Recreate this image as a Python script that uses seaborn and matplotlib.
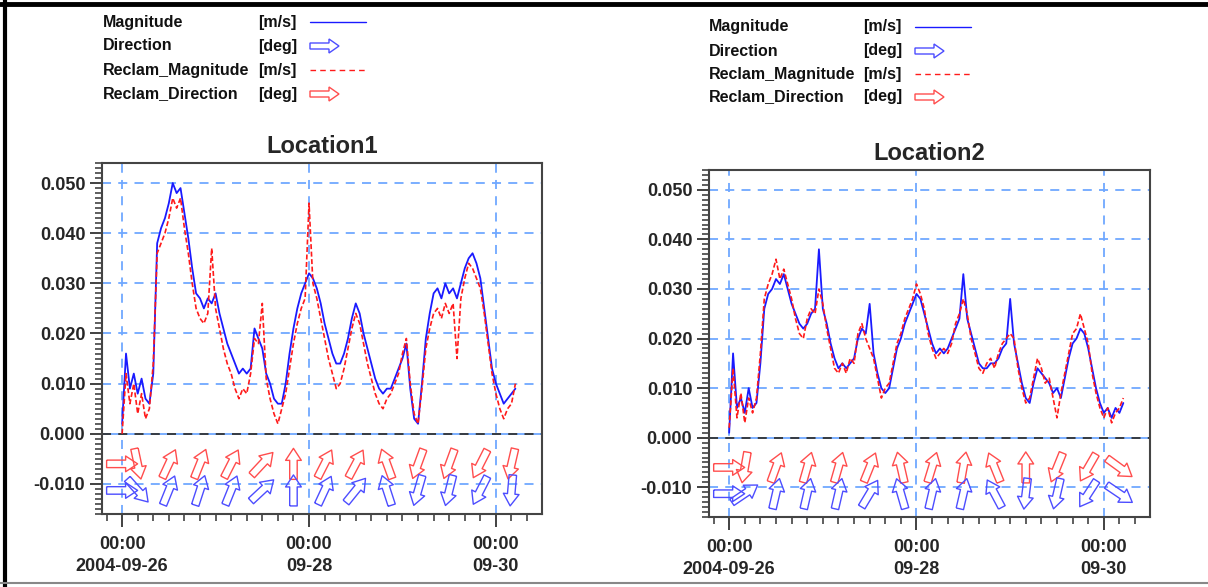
import numpy as np
import pandas as pd
import matplotlib
matplotlib.use("Agg")
import matplotlib.pyplot as plt
import matplotlib.dates as mdates
from matplotlib.ticker import FixedLocator, MultipleLocator, FormatStrFormatter
from matplotlib.patches import FancyArrow
import seaborn as sns

# ---------------- data (hourly, from 2004-09-26 00:00) ----------------
hours = list(range(102))

loc1_mag = [0.002, 0.016, 0.009, 0.012, 0.008, 0.011, 0.007, 0.006, 0.012, 0.038,
            0.041, 0.043, 0.046, 0.050, 0.048, 0.049, 0.044, 0.039, 0.033, 0.028,
            0.027, 0.025, 0.027, 0.026, 0.028, 0.024, 0.021, 0.018, 0.016, 0.014,
            0.012, 0.013, 0.012, 0.013, 0.021, 0.019, 0.017, 0.012, 0.010, 0.007,
            0.006, 0.006, 0.010, 0.016, 0.021, 0.025, 0.028, 0.030, 0.032, 0.031,
            0.029, 0.026, 0.022, 0.019, 0.016, 0.014, 0.014, 0.016, 0.019, 0.023,
            0.026, 0.024, 0.020, 0.017, 0.014, 0.011, 0.009, 0.008, 0.009, 0.009,
            0.011, 0.013, 0.015, 0.018, 0.009, 0.003, 0.002, 0.010, 0.019, 0.024,
            0.028, 0.029, 0.027, 0.030, 0.028, 0.029, 0.027, 0.030, 0.033, 0.035,
            0.036, 0.034, 0.031, 0.025, 0.019, 0.013, 0.010, 0.008, 0.006, 0.007,
            0.008, 0.009]

loc1_reclam = [0.000, 0.012, 0.006, 0.010, 0.004, 0.008, 0.003, 0.005, 0.014, 0.036,
               0.038, 0.040, 0.043, 0.047, 0.045, 0.047, 0.041, 0.036, 0.030, 0.025,
               0.023, 0.022, 0.024, 0.037, 0.025, 0.021, 0.017, 0.014, 0.012, 0.009,
               0.007, 0.009, 0.008, 0.012, 0.019, 0.018, 0.026, 0.011, 0.007, 0.004,
               0.002, 0.005, 0.008, 0.013, 0.018, 0.022, 0.025, 0.027, 0.046, 0.030,
               0.027, 0.023, 0.019, 0.015, 0.012, 0.009, 0.010, 0.013, 0.017, 0.021,
               0.024, 0.022, 0.018, 0.014, 0.011, 0.008, 0.006, 0.005, 0.007, 0.008,
               0.010, 0.012, 0.016, 0.019, 0.010, 0.004, 0.002, 0.009, 0.017, 0.021,
               0.024, 0.025, 0.023, 0.026, 0.024, 0.026, 0.015, 0.027, 0.031, 0.034,
               0.033, 0.031, 0.029, 0.024, 0.018, 0.012, 0.008, 0.005, 0.003, 0.005,
               0.006, 0.010]

loc2_mag = [0.001, 0.017, 0.006, 0.008, 0.005, 0.010, 0.006, 0.007, 0.015, 0.026,
            0.029, 0.030, 0.032, 0.031, 0.033, 0.030, 0.027, 0.025, 0.023, 0.022,
            0.023, 0.025, 0.026, 0.038, 0.026, 0.023, 0.019, 0.016, 0.014, 0.015,
            0.014, 0.015, 0.016, 0.020, 0.022, 0.021, 0.027, 0.017, 0.013, 0.010,
            0.009, 0.010, 0.014, 0.018, 0.020, 0.023, 0.025, 0.027, 0.029, 0.028,
            0.025, 0.022, 0.019, 0.017, 0.018, 0.017, 0.018, 0.020, 0.022, 0.024,
            0.033, 0.024, 0.021, 0.018, 0.015, 0.014, 0.014, 0.015, 0.015, 0.016,
            0.018, 0.019, 0.028, 0.019, 0.015, 0.011, 0.008, 0.007, 0.011, 0.014,
            0.013, 0.012, 0.011, 0.009, 0.010, 0.008, 0.012, 0.016, 0.019, 0.020,
            0.022, 0.021, 0.018, 0.014, 0.010, 0.007, 0.005, 0.006, 0.004, 0.006,
            0.005, 0.007]

loc2_reclam = [0.002, 0.014, 0.004, 0.009, 0.003, 0.008, 0.005, 0.008, 0.017, 0.028,
               0.031, 0.033, 0.036, 0.032, 0.034, 0.031, 0.028, 0.024, 0.021, 0.020,
               0.024, 0.026, 0.025, 0.030, 0.027, 0.022, 0.018, 0.014, 0.013, 0.015,
               0.013, 0.016, 0.015, 0.021, 0.023, 0.020, 0.018, 0.016, 0.012, 0.008,
               0.010, 0.011, 0.015, 0.019, 0.021, 0.024, 0.026, 0.028, 0.031, 0.029,
               0.026, 0.021, 0.018, 0.016, 0.017, 0.018, 0.017, 0.019, 0.023, 0.025,
               0.028, 0.025, 0.020, 0.017, 0.014, 0.013, 0.015, 0.016, 0.014, 0.017,
               0.019, 0.020, 0.021, 0.020, 0.014, 0.010, 0.007, 0.008, 0.012, 0.016,
               0.014, 0.011, 0.012, 0.008, 0.004, 0.009, 0.013, 0.017, 0.021, 0.022,
               0.025, 0.022, 0.019, 0.013, 0.009, 0.006, 0.004, 0.006, 0.003, 0.005,
               0.006, 0.008]

# direction samples (compass degrees, 0 = north, clockwise)
arrow_hours = [0, 4, 12, 20, 28, 36, 44, 52, 60, 68, 76, 84, 92, 100]
loc1_dir = [90, 138, 22, 18, 22, 47, 0, 25, 39, 342, 196, 194, 207, 185]
loc1_reclam_dir = [90, 168, 25, 22, 27, 43, 0, 27, 28, 340, 200, 200, 207, 193]
loc2_dir = [90, 56, 13, 13, 13, 31, 344, 13, 13, 332, 187, 193, 213, 124]
loc2_reclam_dir = [90, 190, 20, 16, 16, 22, 347, 17, 10, 338, 0, 202, 210, 126]

titles = ["Location1", "Location2"]
legend_names = ["Magnitude", "Direction", "Reclam_Magnitude", "Reclam_Direction"]
legend_units = ["[m/s]", "[deg]", "[m/s]", "[deg]"]
ytick_vals = [0.050, 0.040, 0.030, 0.020, 0.010, 0.000, -0.010]
xtick_dates = ["2004-09-26 00:00", "2004-09-28 00:00", "2004-09-30 00:00"]
xtick_labels = ["00:00\n2004-09-26", "00:00\n09-28", "00:00\n09-30"]

# ---------------- style ----------------
sns.set_theme(style="ticks")
plt.rcParams["font.family"] = ["Liberation Sans", "DejaVu Sans"]
plt.rcParams["font.weight"] = "bold"

BLUE = "#1a1aff"
RED = "#ff1a1a"
ABLUE = "#4d4dff"
ARED = "#ff4d4d"
GRID = "#6fa8ff"

start = pd.Timestamp("2004-09-26 00:00")
times = start + pd.to_timedelta(hours, unit="h")
arrow_times = mdates.date2num(start + pd.to_timedelta(arrow_hours, unit="h"))

fig = plt.figure(figsize=(12.08, 5.87), dpi=100)

axes_rects = [[102 / 1208, 1 - 514 / 587, 440 / 1208, 351 / 587],
              [709 / 1208, 1 - 517 / 587, 441 / 1208, 347 / 587]]
series = [(loc1_mag, loc1_reclam, loc1_dir, loc1_reclam_dir),
          (loc2_mag, loc2_reclam, loc2_dir, loc2_reclam_dir)]

for rect, title, (mag, rmag, d, rd) in zip(axes_rects, titles, series):
    ax = fig.add_axes(rect)
    df = pd.DataFrame({"time": times, "mag": mag, "rmag": rmag})
    sns.lineplot(data=df, x="time", y="mag", ax=ax, color=BLUE, lw=1.3, zorder=3)
    sns.lineplot(data=df, x="time", y="rmag", ax=ax, color=RED, lw=1.2, zorder=4)
    ax.lines[-1].set_dashes((3, 1.5))

    # direction arrows (hollow)
    for dirs, yb, col in [(rd, -0.0060, ARED), (d, -0.0113, ABLUE)]:
        rad = np.deg2rad(np.array(dirs, dtype=float))
        ax.quiver(arrow_times, np.full(len(dirs), yb), np.sin(rad), np.cos(rad),
                  angles="uv", pivot="middle", units="dots", scale_units="dots",
                  scale=1 / 31, width=7.5, headwidth=2.1, headlength=1.6,
                  headaxislength=1.6, facecolors="none", edgecolors=col,
                  linewidths=1.0, zorder=6)

    ax.set_xlim(pd.Timestamp("2004-09-25 18:50"), pd.Timestamp("2004-09-30 11:50"))
    ax.set_ylim(-0.016, 0.054)
    ax.set_xlabel("")
    ax.set_ylabel("")

    ax.yaxis.set_major_locator(FixedLocator(ytick_vals))
    ax.yaxis.set_major_formatter(FormatStrFormatter("%.3f"))
    ax.yaxis.set_minor_locator(MultipleLocator(0.001))
    ax.set_xticks(mdates.date2num(pd.to_datetime(xtick_dates)), labels=xtick_labels)
    ax.xaxis.set_minor_locator(mdates.HourLocator(byhour=range(0, 24, 4)))

    ax.tick_params(axis="both", which="major", length=9, width=1.3, color="#333333",
                   direction="out", labelsize=13, pad=3)
    ax.tick_params(axis="both", which="minor", length=5, width=1.1, color="#333333",
                   direction="out")
    ax.tick_params(axis="x", which="major", pad=7)
    for lab in ax.get_xticklabels():
        lab.set_linespacing(1.35)
        lab.set_fontweight("bold")
    for lab in ax.get_yticklabels():
        lab.set_fontweight("bold")

    ax.grid(True, which="major", color=GRID, linestyle=(0, (5, 4)), linewidth=1.3)
    ax.axhline(0, color=GRID, lw=1.3, zorder=1)
    ax.axhline(0, color="#333333", lw=1.3, ls=(0, (5, 4)), zorder=2)

    for s in ax.spines.values():
        s.set_color("#444444")
        s.set_linewidth(1.5)
        s.set_visible(True)

    ax.set_title(title, fontsize=17, fontweight="bold", pad=7)

# ---------------- legends and frame (overlay in pixel coords) ----------------
ov = fig.add_axes([0, 0, 1, 1], zorder=-1)
ov.set_xlim(0, 1208)
ov.set_ylim(587, 0)
ov.axis("off")

legend_layout = [(103, 258, 310, [22, 46, 70, 94]),
                 (709, 863, 915, [27, 51, 74, 97])]
for xt, xu, xs, ys in legend_layout:
    for name, unit, y, kind in zip(legend_names, legend_units, ys,
                                   ["line", "arrow", "dash", "arrow"]):
        ov.text(xt, y, name, fontsize=11.5, fontweight="bold", va="center",
                ha="left", color="#111111")
        ov.text(xu, y, unit, fontsize=11.5, fontweight="bold", va="center",
                ha="left", color="#111111")
        if kind == "line":
            ov.plot([xs, xs + 56], [y, y], color=BLUE, lw=1.0)
        elif kind == "dash":
            ov.plot([xs, xs + 56], [y, y], color=RED, lw=1.0, dashes=(4, 3))
        else:
            col = ABLUE if name == "Direction" else ARED
            ov.add_patch(FancyArrow(xs, y, 29, 0, width=6, head_width=14,
                                    head_length=10, length_includes_head=True,
                                    facecolor="none", edgecolor=col, lw=1.0))

ov.plot([0, 1208], [4, 4], color="black", lw=3.5, clip_on=False)
ov.plot([5, 5], [0, 587], color="black", lw=3.0, clip_on=False)
ov.plot([0, 1208], [583, 583], color="#888888", lw=1.5, clip_on=False)

fig.savefig("out.png", dpi=100)
